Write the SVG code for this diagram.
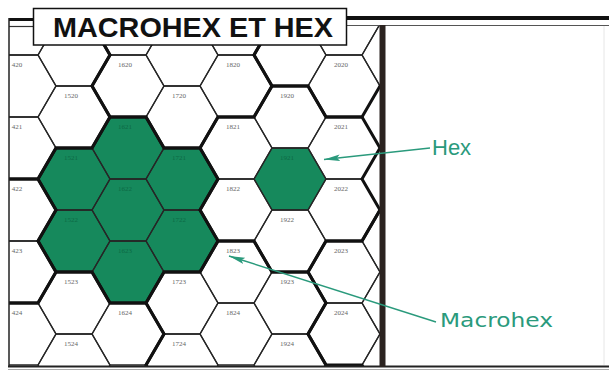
<svg xmlns="http://www.w3.org/2000/svg" xmlns:xlink="http://www.w3.org/1999/xlink" width="609" height="372" viewBox="0 0 609 372">
<style>
.g{fill:none;stroke:#262626;stroke-width:1.3}
.m{fill:none;stroke:#111;stroke-width:3;stroke-linejoin:round}
.gr{fill:#16895c;stroke:none}
.lb{font-family:"Liberation Serif",serif;font-size:7px;fill:#666;text-anchor:middle}
.lg{font-family:"Liberation Serif",serif;font-size:7px;fill:#0d6a45;text-anchor:middle}
.ar{stroke:#2a9a7c;stroke-width:1.4;fill:none}
.call{fill:#2a9a7c}
</style>
<defs>
<path id="h" d="M-36,0L-18,-31L18,-31L36,0L18,31L-18,31Z"/>
<path id="mh" d="M-18,-93L18,-93L36,-62L72,-62L90,-31L72,0L90,31L72,62L36,62L18,93L-18,93L-36,62L-72,62L-90,31L-72,0L-90,-31L-72,-62L-36,-62Z"/>
<clipPath id="map"><rect x="9" y="26" width="372" height="340"/></clipPath>
<marker id="tip" markerUnits="userSpaceOnUse" markerWidth="17" markerHeight="8" refX="16" refY="4" orient="auto">
<path d="M0,0.8L16,4L0,7.2L3,4Z" fill="#2a9a7c"/>
</marker>
</defs>
<rect width="609" height="372" fill="#fff"/>
<g id="map-grid" clip-path="url(#map)">
<g id="fills">
<use href="#mh" x="128" y="210" class="gr"/>
<use href="#h" x="290" y="179" class="gr"/>
</g>
<g id="hexes">
<g id="hex-1419"><use href="#h" x="20" y="24" class="g"/></g>
<g id="hex-1420"><use href="#h" x="20" y="86" class="g"/><text class="lb" x="17" y="67">420</text></g>
<g id="hex-1421"><use href="#h" x="20" y="148" class="g"/><text class="lb" x="17" y="129">421</text></g>
<g id="hex-1422"><use href="#h" x="20" y="210" class="g"/><text class="lb" x="17" y="191">422</text></g>
<g id="hex-1423"><use href="#h" x="20" y="272" class="g"/><text class="lb" x="17" y="253">423</text></g>
<g id="hex-1424"><use href="#h" x="20" y="334" class="g"/><text class="lb" x="17" y="315">424</text></g>
<g id="hex-1519"><use href="#h" x="74" y="55" class="g"/></g>
<g id="hex-1520"><use href="#h" x="74" y="117" class="g"/><text class="lb" x="71" y="98">1520</text></g>
<g id="hex-1521"><use href="#h" x="74" y="179" class="g"/><text class="lg" x="71" y="160">1521</text></g>
<g id="hex-1522"><use href="#h" x="74" y="241" class="g"/><text class="lg" x="71" y="222">1522</text></g>
<g id="hex-1523"><use href="#h" x="74" y="303" class="g"/><text class="lb" x="71" y="284">1523</text></g>
<g id="hex-1524"><use href="#h" x="74" y="365" class="g"/><text class="lb" x="71" y="346">1524</text></g>
<g id="hex-1619"><use href="#h" x="128" y="24" class="g"/></g>
<g id="hex-1620"><use href="#h" x="128" y="86" class="g"/><text class="lb" x="125" y="67">1620</text></g>
<g id="hex-1621"><use href="#h" x="128" y="148" class="g"/><text class="lg" x="125" y="129">1621</text></g>
<g id="hex-1622"><use href="#h" x="128" y="210" class="g"/><text class="lg" x="125" y="191">1622</text></g>
<g id="hex-1623"><use href="#h" x="128" y="272" class="g"/><text class="lg" x="125" y="253">1623</text></g>
<g id="hex-1624"><use href="#h" x="128" y="334" class="g"/><text class="lb" x="125" y="315">1624</text></g>
<g id="hex-1719"><use href="#h" x="182" y="55" class="g"/></g>
<g id="hex-1720"><use href="#h" x="182" y="117" class="g"/><text class="lb" x="179" y="98">1720</text></g>
<g id="hex-1721"><use href="#h" x="182" y="179" class="g"/><text class="lg" x="179" y="160">1721</text></g>
<g id="hex-1722"><use href="#h" x="182" y="241" class="g"/><text class="lg" x="179" y="222">1722</text></g>
<g id="hex-1723"><use href="#h" x="182" y="303" class="g"/><text class="lb" x="179" y="284">1723</text></g>
<g id="hex-1724"><use href="#h" x="182" y="365" class="g"/><text class="lb" x="179" y="346">1724</text></g>
<g id="hex-1819"><use href="#h" x="236" y="24" class="g"/></g>
<g id="hex-1820"><use href="#h" x="236" y="86" class="g"/><text class="lb" x="233" y="67">1820</text></g>
<g id="hex-1821"><use href="#h" x="236" y="148" class="g"/><text class="lb" x="233" y="129">1821</text></g>
<g id="hex-1822"><use href="#h" x="236" y="210" class="g"/><text class="lb" x="233" y="191">1822</text></g>
<g id="hex-1823"><use href="#h" x="236" y="272" class="g"/><text class="lb" x="233" y="253">1823</text></g>
<g id="hex-1824"><use href="#h" x="236" y="334" class="g"/><text class="lb" x="233" y="315">1824</text></g>
<g id="hex-1919"><use href="#h" x="290" y="55" class="g"/></g>
<g id="hex-1920"><use href="#h" x="290" y="117" class="g"/><text class="lb" x="287" y="98">1920</text></g>
<g id="hex-1921"><use href="#h" x="290" y="179" class="g"/><text class="lg" x="287" y="160">1921</text></g>
<g id="hex-1922"><use href="#h" x="290" y="241" class="g"/><text class="lb" x="287" y="222">1922</text></g>
<g id="hex-1923"><use href="#h" x="290" y="303" class="g"/><text class="lb" x="287" y="284">1923</text></g>
<g id="hex-1924"><use href="#h" x="290" y="365" class="g"/><text class="lb" x="287" y="346">1924</text></g>
<g id="hex-2019"><use href="#h" x="344" y="24" class="g"/></g>
<g id="hex-2020"><use href="#h" x="344" y="86" class="g"/><text class="lb" x="341" y="67">2020</text></g>
<g id="hex-2021"><use href="#h" x="344" y="148" class="g"/><text class="lb" x="341" y="129">2021</text></g>
<g id="hex-2022"><use href="#h" x="344" y="210" class="g"/><text class="lb" x="341" y="191">2022</text></g>
<g id="hex-2023"><use href="#h" x="344" y="272" class="g"/><text class="lb" x="341" y="253">2023</text></g>
<g id="hex-2024"><use href="#h" x="344" y="334" class="g"/><text class="lb" x="341" y="315">2024</text></g>
<g id="hex-2119"><use href="#h" x="398" y="55" class="g"/></g>
<g id="hex-2120"><use href="#h" x="398" y="117" class="g"/></g>
<g id="hex-2121"><use href="#h" x="398" y="179" class="g"/></g>
<g id="hex-2122"><use href="#h" x="398" y="241" class="g"/></g>
<g id="hex-2123"><use href="#h" x="398" y="303" class="g"/></g>
<g id="hex-2124"><use href="#h" x="398" y="365" class="g"/></g>
</g>
<g id="macrohexes">
<use href="#mh" x="128" y="210" class="m"/>
<use href="#mh" x="290" y="179" class="m"/>
<use href="#mh" x="-34" y="241" class="m"/>
<use href="#mh" x="20" y="86" class="m"/>
<use href="#mh" x="182" y="55" class="m"/>
<use href="#mh" x="344" y="24" class="m"/>
<use href="#mh" x="236" y="334" class="m"/>
<use href="#mh" x="74" y="365" class="m"/>
<use href="#mh" x="398" y="303" class="m"/>
</g>
</g>
<g id="frame">
<line x1="9" y1="19.5" x2="34" y2="19.5" stroke="#111" stroke-width="3"/>
<line x1="9" y1="26.5" x2="34" y2="26.5" stroke="#333" stroke-width="1.2"/>
<line x1="346" y1="18" x2="609" y2="18" stroke="#111" stroke-width="4"/>
<line x1="346" y1="25.5" x2="609" y2="25.5" stroke="#555" stroke-width="1.2"/>
<line x1="9" y1="18" x2="9" y2="367" stroke="#222" stroke-width="1.5"/>
<line x1="8" y1="366.5" x2="609" y2="366.5" stroke="#222" stroke-width="2"/>
<line x1="8" y1="369.5" x2="609" y2="369.5" stroke="#aaa" stroke-width="1"/>
<line x1="604" y1="26" x2="604" y2="365" stroke="#e6e6e6" stroke-width="1"/>
<rect x="379.5" y="25" width="6" height="342" fill="#2b2320"/>
</g>
<g id="title">
<rect x="33.5" y="8.5" width="313" height="36.5" fill="#fff" stroke="#111" stroke-width="1.5"/>
<text x="53" y="37" font-family="'Liberation Sans',Arial,sans-serif" font-weight="bold" font-size="28" textLength="280" lengthAdjust="spacingAndGlyphs" fill="#111">MACROHEX ET HEX</text>
</g>
<g id="connectors">
<line class="ar" x1="430" y1="148" x2="324" y2="159.5" marker-end="url(#tip)"/>
<line class="ar" x1="436" y1="322" x2="229" y2="256" marker-end="url(#tip)"/>
</g>
<g id="callout-hex"><text class="call" x="432" y="155" font-family="'Liberation Sans',Arial,sans-serif" font-size="22">Hex</text></g>
<g id="callout-macrohex"><text class="call" x="440" y="327" font-family="'DejaVu Sans',sans-serif" font-size="20" textLength="113" lengthAdjust="spacingAndGlyphs">Macrohex</text></g>
</svg>
